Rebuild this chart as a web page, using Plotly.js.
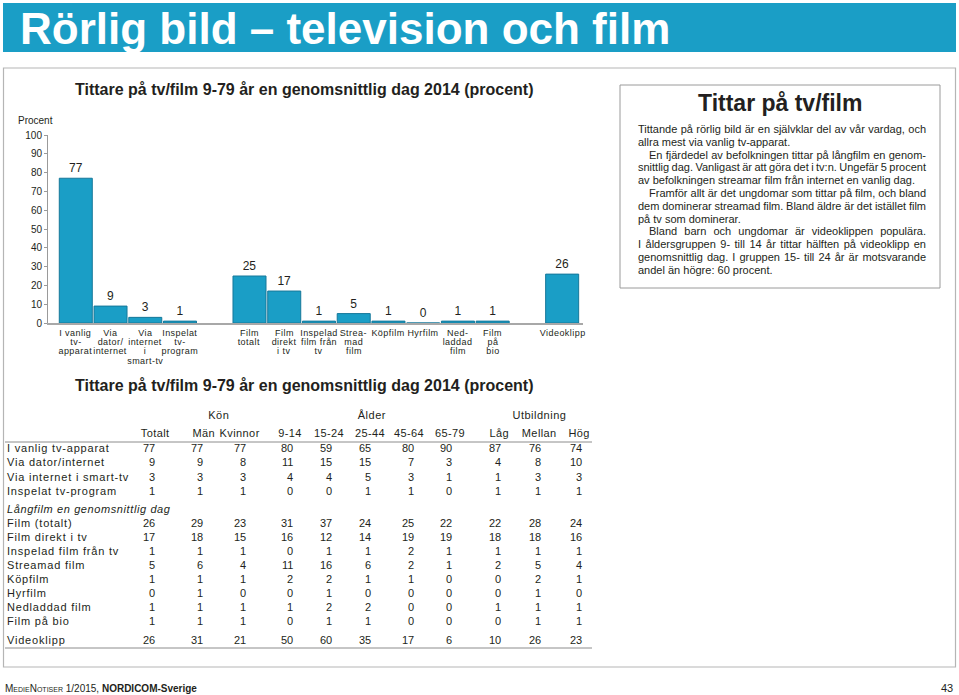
<!DOCTYPE html>
<html><head><meta charset="utf-8">
<script src="https://cdn.plot.ly/plotly-3.0.1.min.js"></script>
<style>html,body{margin:0;padding:0;background:#fff;}#chart{width:959px;height:695px;}</style>
</head><body><div id="chart"></div>
<script>
// ---- chart data ----
const tvCats = ["I vanlig<br>tv-<br>apparat", "Via<br>dator/<br>internet", "Via<br>internet<br>i<br>smart-tv", "Inspelat<br>tv-<br>program"];
const tvVals = [77, 9, 3, 1];
const filmCats = ["Film<br>totalt", "Film<br>direkt<br>i tv", "Inspelad<br>film från<br>tv", "Strea-<br>mad<br>film", "Köpfilm", "Hyrfilm", "Ned-<br>laddad<br>film", "Film<br>på<br>bio"];
const filmVals = [25, 17, 1, 5, 1, 0, 1, 1];
const clipCats = ["Videoklipp"];
const clipVals = [26];
const yTicks = [0, 10, 20, 30, 40, 50, 60, 70, 80, 90, 100];

// ---- table data ----
const groupHeaders = ["Kön", "Ålder", "Utbildning"];
const colHeaders = ["Totalt", "Män", "Kvinnor", "9-14", "15-24", "25-44", "45-64", "65-79", "Låg", "Mellan", "Hög"];
const tvRowLabels = ["I vanlig tv-apparat", "Via dator/internet", "Via internet i smart-tv", "Inspelat tv-program"];
const tvRows = [
  [77, 77, 77, 80, 59, 65, 80, 90, 87, 76, 74],
  [9, 9, 8, 11, 15, 15, 7, 3, 4, 8, 10],
  [3, 3, 3, 4, 4, 5, 3, 1, 1, 3, 3],
  [1, 1, 1, 0, 0, 1, 1, 0, 1, 1, 1]
];
const filmSection = "Långfilm en genomsnittlig dag";
const filmRowLabels = ["Film (totalt)", "Film direkt i tv", "Inspelad film från tv", "Streamad film", "Köpfilm", "Hyrfilm", "Nedladdad film", "Film på bio"];
const filmRows = [
  [26, 29, 23, 31, 37, 24, 25, 22, 22, 28, 24],
  [17, 18, 15, 16, 12, 14, 19, 19, 18, 18, 16],
  [1, 1, 1, 0, 1, 1, 2, 1, 1, 1, 1],
  [5, 6, 4, 11, 16, 6, 2, 1, 2, 5, 4],
  [1, 1, 1, 2, 2, 1, 1, 0, 0, 2, 1],
  [0, 1, 0, 0, 1, 0, 0, 0, 0, 1, 0],
  [1, 1, 1, 1, 2, 2, 0, 0, 1, 1, 1],
  [1, 1, 1, 0, 1, 1, 0, 0, 0, 1, 1]
];
const clipRowLabel = "Videoklipp";
const clipRow = [26, 31, 21, 50, 60, 35, 17, 6, 10, 26, 23];

// ---- texts ----
const pageTitle = "Rörlig bild – television och film";
const chartTitle = "Tittare på tv/film 9-79 år en genomsnittlig dag 2014 (procent)";
const boxTitle = "Tittar på tv/film";
// [text, indented, justified]
const boxLines = [
  ["Tittande på rörlig bild är en självklar del av vår vardag, och", false, true],
  ["allra mest via vanlig tv-apparat.", false, false],
  ["En fjärdedel av befolkningen tittar på långfilm en genom-", true, true],
  ["snittlig dag. Vanligast är att göra det i tv:n. Ungefär 5 procent", false, true],
  ["av befolkningen streamar film från internet en vanlig dag.", false, false],
  ["Framför allt är det ungdomar som tittar på film, och bland", true, true],
  ["dem dominerar streamad film. Bland äldre är det istället film", false, true],
  ["på tv som dominerar.", false, false],
  ["Bland barn och ungdomar är videoklippen populära.", true, true],
  ["I åldersgruppen 9- till 14 år tittar hälften på videoklipp en", false, true],
  ["genomsnittlig dag. I gruppen 15- till 24 år är motsvarande", false, true],
  ["andel än högre: 60 procent.", false, false]
];

// ---- layout helpers ----
const W = 959, H = 695;
const X = p => p / W;
const Y = p => 1 - p / H;
const FONT = "Liberation Sans, Arial, Helvetica, sans-serif";
const TXT = "#231f20";
const BLUE = "#1a9ec6";

const cats = [...tvCats, " ", ...filmCats, "  ", ...clipCats];
const vals = [...tvVals, null, ...filmVals, null, ...clipVals];

const trace = {
  type: "bar",
  x: cats,
  y: vals,
  text: vals.map(v => v === null ? "" : String(v)),
  textposition: "outside",
  cliponaxis: false,
  constraintext: "none",
  textfont: {family: FONT, size: 12, color: TXT},
  marker: {color: BLUE, line: {color: "#16789a", width: 1}},
  width: 0.95,
  hoverinfo: "skip"
};

const ann = [];
const post = {};   // per-annotation text tweaks after render
const shapes = [];
function t(px, py, text, opt, tweak) {
  ann.push(Object.assign({
    xref: "paper", yref: "paper", x: X(px), y: Y(py), text: text,
    showarrow: false, xanchor: "left", yanchor: "middle",
    font: {family: FONT, size: 11, color: TXT}
  }, opt || {}));
  if (tweak) post[ann.length - 1] = tweak;
}
function line(x0, y0, x1, y1, color, w) {
  shapes.push({type: "line", xref: "paper", yref: "paper", x0: X(x0), y0: Y(y0), x1: X(x1), y1: Y(y1), line: {color: color, width: w}});
}

// banner
shapes.push({type: "rect", xref: "paper", yref: "paper", x0: X(3), x1: X(956), y0: Y(3), y1: Y(52), fillcolor: BLUE, line: {width: 0}, layer: "below"});
t(18, 28, "<b>" + pageTitle + "</b>", {font: {family: FONT, size: 44, color: "#ffffff"}});

// outer frame
shapes.push({type: "rect", xref: "paper", yref: "paper", x0: X(3.5), x1: X(955.5), y0: Y(68), y1: Y(667), line: {color: "#b5b5b5", width: 1.2}, layer: "below"});
// text box
shapes.push({type: "rect", xref: "paper", yref: "paper", x0: X(620), x1: X(940), y0: Y(85), y1: Y(288), line: {color: "#9a9a9a", width: 1}, layer: "below"});

// chart titles
t(304, 90, "<b>" + chartTitle + "</b>", {xanchor: "center", font: {family: FONT, size: 16, color: TXT}});
t(304, 385, "<b>" + chartTitle + "</b>", {xanchor: "center", font: {family: FONT, size: 16, color: TXT}});
t(35, 121, "Procent", {xanchor: "center", font: {family: FONT, size: 10, color: TXT}});

// x tick labels (one annotation per line, on the category axis)
cats.forEach((c, i) => {
  c.trim() && c.split("<br>").forEach((s, j) => {
    ann.push({xref: "x", yref: "paper", x: i, y: Y(332.7 + j * 9.35), text: s, showarrow: false,
      xanchor: "center", yanchor: "middle", font: {family: FONT, size: 9, color: TXT}});
    post[ann.length - 1] = {ls: 0.45};
  });
});

// box
t(780, 103, "<b>" + boxTitle + "</b>", {xanchor: "center", font: {family: FONT, size: 23, color: TXT}});
boxLines.forEach((b, i) => {
  const x0 = b[1] ? 647 : 636;
  t(x0, 129 + i * 12.8, b[0], {align: "left", font: {family: FONT, size: 11, color: TXT}}, b[2] ? {justify: 924 - x0} : null);
});

// table
const colRight = [157, 205, 248, 295, 334, 373, 416, 454, 503, 543, 584];
const colCenter = [155, 203, 240, 290, 329, 370, 409, 450, 499, 539, 579];
const groupCenter = [219, 372, 539];
const TF = {family: FONT, size: 11, color: TXT};
groupHeaders.forEach((g, i) => t(groupCenter[i], 415, g, {xanchor: "center", font: TF}, {ls: 0.5}));
colHeaders.forEach((h, i) => t(colCenter[i], 433, h, {xanchor: "center", font: TF}, {ls: 0.4}));
line(5, 442, 592, 442, "#8c8c8c", 1);
function row(label, values, py) {
  t(5, py, label, {align: "left", font: TF}, {ls: 0.8});
  values.forEach((v, i) => t(colRight[i], py, String(v), {xanchor: "right", font: TF}));
}
tvRowLabels.forEach((l, i) => row(l, tvRows[i], 448 + i * 14.3));
t(5, 509, "<i>" + filmSection + "</i>", {align: "left", font: TF}, {ls: 0.6});
filmRowLabels.forEach((l, i) => row(l, filmRows[i], 523 + i * 14));
row(clipRowLabel, clipRow, 640);
line(5, 648, 592, 648, "#8c8c8c", 1);

// footer
t(3, 688, "M<span style='font-size:7px'>EDIE</span>N<span style='font-size:7px'>OTISER</span> 1/2015, <b>NORDICOM-Sverige</b>", {align: "left", font: {family: FONT, size: 10, color: TXT}});
t(955, 688, "43", {xanchor: "right", font: {family: FONT, size: 11, color: TXT}});

const layout = {
  width: W, height: H,
  margin: {l: 0, r: 0, t: 0, b: 0},
  paper_bgcolor: "#ffffff", plot_bgcolor: "rgba(0,0,0,0)",
  showlegend: false,
  font: {family: FONT, color: TXT},
  bargap: 0.05,
  xaxis: {
    domain: [X(48), X(583)],
    type: "category",
    range: [-0.8, 14.6],
    showgrid: false, zeroline: false,
    showline: true, linecolor: "#a8a8a8", linewidth: 2,
    ticks: "", showticklabels: false, fixedrange: true
  },
  yaxis: {
    domain: [Y(323), Y(135)],
    range: [0, 100],
    tickvals: yTicks,
    ticktext: yTicks.map(String),
    showgrid: false, zeroline: false,
    showline: true, linecolor: "#9a9a9a", linewidth: 1,
    ticks: "outside", ticklen: 3, tickcolor: "#9a9a9a",
    tickfont: {family: FONT, size: 10, color: TXT},
    fixedrange: true
  },
  annotations: ann,
  shapes: shapes
};

Plotly.newPlot("chart", [trace], layout, {displayModeBar: false, staticPlot: true}).then(() => {
  document.querySelectorAll("#chart g.annotation").forEach(g => {
    const spec = post[+g.getAttribute("data-index")];
    const txt = g.querySelector("text.annotation-text");
    if (!spec || !txt) return;
    if (spec.ls) txt.style.letterSpacing = spec.ls + "px";
    if (spec.justify) {
      const n = (txt.textContent.match(/ /g) || []).length;
      const len = txt.getComputedTextLength();
      if (n) txt.style.wordSpacing = ((spec.justify - len) / n) + "px";
    }
  });
});
</script>
</body></html>
